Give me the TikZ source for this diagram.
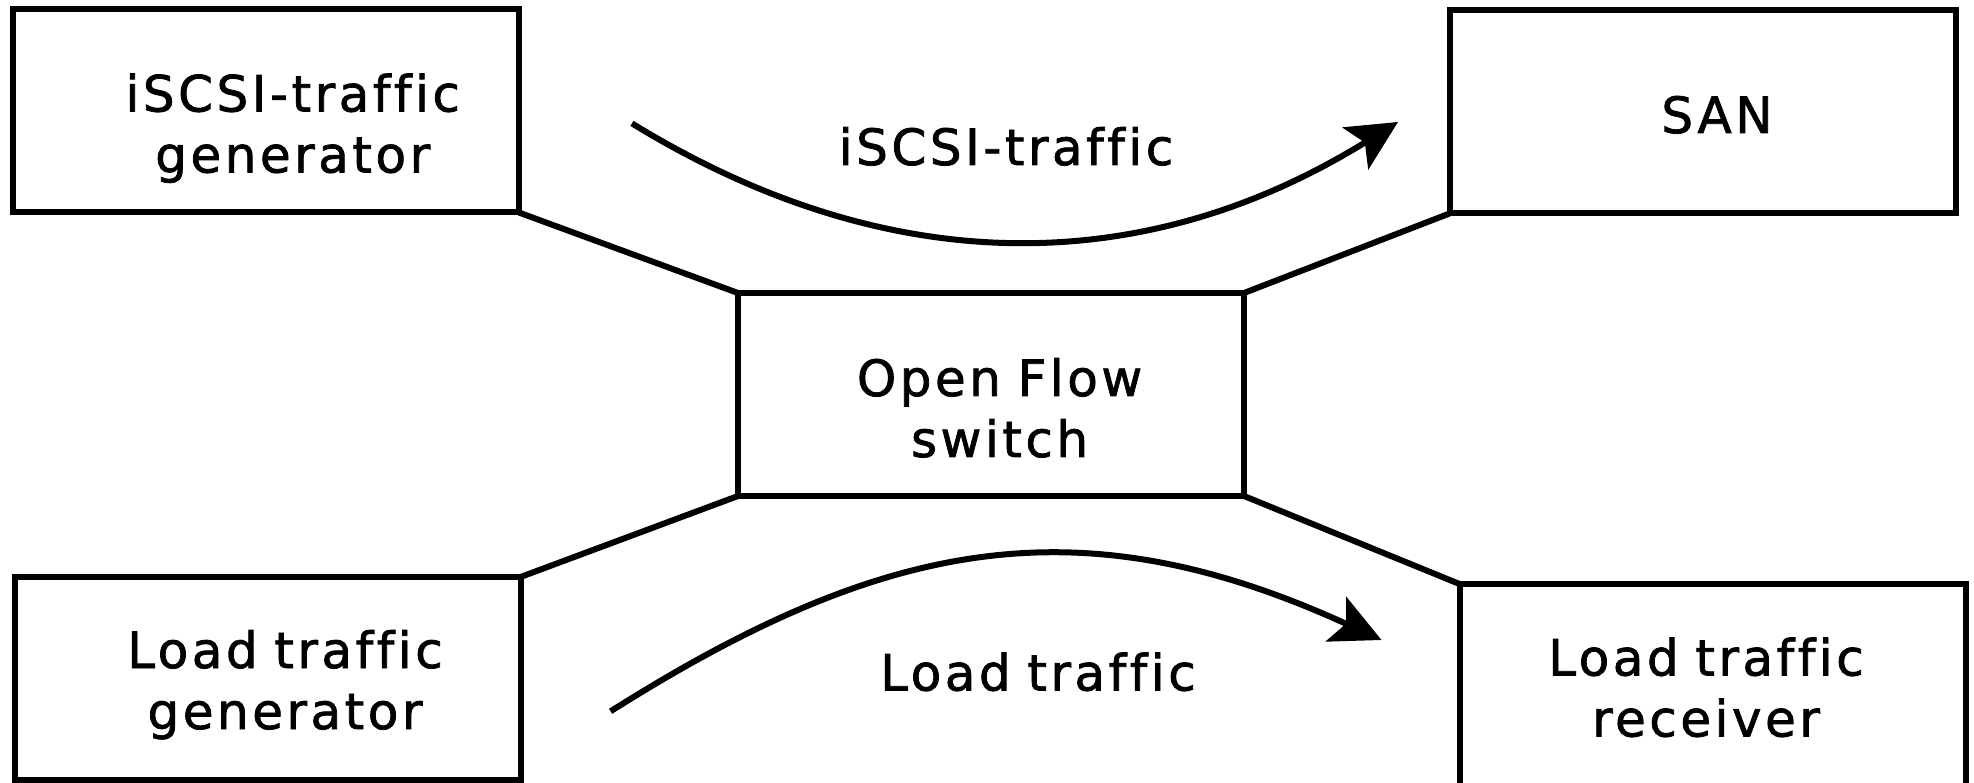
\documentclass[tikz,border=0pt]{standalone}
\usepackage{fontspec}
\setmainfont{DejaVu Sans}[LetterSpace=7,Ligatures=NoCommon,FakeBold=1.5]
\usetikzlibrary{arrows.meta}

\begin{document}
\begin{tikzpicture}[
  x=1pt, y=-1pt,
  box/.style={draw, line width=6pt, minimum width=506pt, minimum height=203pt,
              outer sep=0pt, inner sep=0pt},
  txt/.style={font=\fontsize{50}{61}\selectfont, text width=480pt, align=center,
              anchor=base, inner sep=0pt},
  wire/.style={line width=6pt},
  flow/.style={line width=6pt, -{Stealth[length=50pt,width=49pt,inset=11pt]}}
]
\useasboundingbox (0,0) rectangle (1974,783);

% boxes
\node[box] (gen)  at (265.8,111)   {};
\node[box] (san)  at (1702.5,112)  {};
\node[box] (sw)   at (991,394.5)   {};
\node[box] (lgen) at (267.5,678.5) {};
\node[box] (lrcv) at (1712.5,685.5) {};

% box captions
\node[txt] (genT)  at (292.7,111.5) {iSCSI-traffic\\generator};
\node[txt] (sanT)  at (1717,133)    {SAN};
\node[txt] (swT)   at (999.6,396)   {Open Flow\\switch};
\node[txt] (lgenT) at (285,668)     {Load traffic\\generator};
\node[txt] (lrcvT) at (1706,675.5)  {Load traffic\\receiver};

% links to the switch
\draw[wire] (gen.south east) -- (sw.north west);
\draw[wire] (san.south west) -- (sw.north east);
\draw[wire] (sw.south west) -- (lgen.north east);
\draw[wire] (sw.south east) -- (lrcv.north west);

% traffic flows
\coordinate (f1s) at (632,123.4);
\coordinate (f1e) at (1398,122);
\coordinate (f2s) at (610.6,711.3);
\coordinate (f2e) at (1381.5,640);
\draw[flow] (f1s) .. controls (887,280) and (1143,280) .. (f1e);
\draw[flow] (f2s) .. controls (885,538) and (1080,502) .. (f2e);

\node[txt] (f1T) at (1006,165)   {iSCSI-traffic};
\node[txt] (f2T) at (1038,690.5) {Load traffic};
\end{tikzpicture}
\end{document}
